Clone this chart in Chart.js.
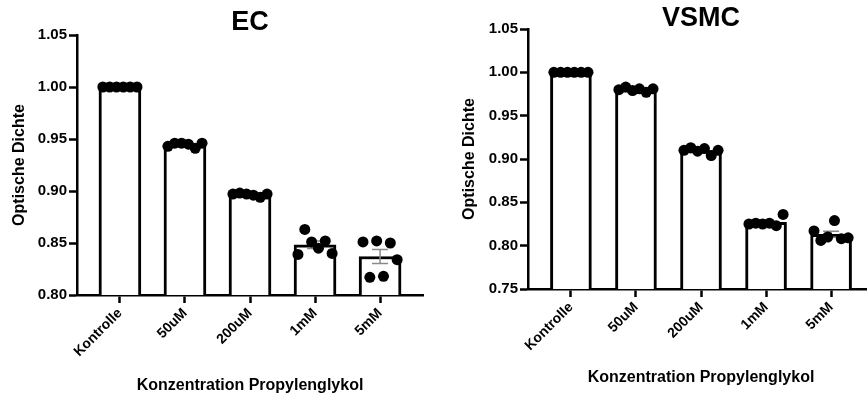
<!DOCTYPE html>
<html>
<head>
<meta charset="utf-8">
<script src="https://cdn.jsdelivr.net/npm/chart.js@4.4.0/dist/chart.umd.min.js"></script>
<style>
html, body { margin: 0; padding: 0; background: #fff; overflow: hidden; width: 867px; height: 398px; }
#w1 { position: absolute; left: 0; top: 0; width: 440px; height: 398px; }
#w2 { position: absolute; left: 440px; top: 0; width: 440px; height: 398px; }
</style>
</head>
<body>
<div id="w1"><canvas id="ec"></canvas></div>
<div id="w2"><canvas id="vsmc"></canvas></div>
<script>
var categories = ['Kontrolle', '50uM', '200uM', '1mM', '5mM'];

// optical density, 6 replicates per concentration
var ecValues = [
    [1.000, 1.000, 1.000, 1.000, 1.000, 1.000],
    [0.943, 0.946, 0.946, 0.945, 0.941, 0.946],
    [0.897, 0.898, 0.897, 0.896, 0.894, 0.897],
    [0.839, 0.863, 0.851, 0.845, 0.852, 0.840],
    [0.851, 0.817, 0.852, 0.818, 0.850, 0.834]
];
var vsmcValues = [
    [1.000, 1.000, 1.000, 1.000, 1.000, 1.000],
    [0.980, 0.983, 0.979, 0.981, 0.977, 0.981],
    [0.910, 0.913, 0.909, 0.912, 0.904, 0.910],
    [0.825, 0.826, 0.825, 0.826, 0.823, 0.836],
    [0.817, 0.806, 0.810, 0.829, 0.808, 0.809]
];
var ecTicks = [0.80, 0.85, 0.90, 0.95, 1.00, 1.05];
var vsmcTicks = [0.75, 0.80, 0.85, 0.90, 0.95, 1.00, 1.05];

var FONT = 'Liberation Sans, Arial, sans-serif';

function mean(a) {
    var s = 0;
    a.forEach(function (v) { s += v; });
    return s / a.length;
}
function sem(a) {
    var m = mean(a), s = 0;
    a.forEach(function (v) { s += (v - m) * (v - m); });
    return Math.sqrt(s / (a.length - 1)) / Math.sqrt(a.length);
}

function makeChart(id, values, yTicks, title, lay) {
    var points = [];
    values.forEach(function (arr, i) {
        arr.forEach(function (v, j) {
            points.push({ x: i + (j - (arr.length - 1) / 2) * 0.105, y: v });
        });
    });
    var bars = values.map(function (arr, i) { return { x: i, y: mean(arr) }; });

    var errorBars = {
        id: 'errorBars',
        afterDatasetDraw: function (chart, args) {
            if (args.meta.type !== 'bar') return;
            var ctx = chart.ctx, xs = chart.scales.x, ys = chart.scales.y;
            ctx.save();
            ctx.strokeStyle = '#8a8a8a';
            ctx.lineWidth = 1.5;
            values.forEach(function (arr, i) {
                var m = mean(arr), s = sem(arr);
                if (s === 0) return;
                var px = xs.getPixelForValue(i);
                var hi = ys.getPixelForValue(m + s), lo = ys.getPixelForValue(m - s);
                ctx.beginPath();
                ctx.moveTo(px, hi); ctx.lineTo(px, lo);
                ctx.moveTo(px - 8, hi); ctx.lineTo(px + 8, hi);
                ctx.moveTo(px - 8, lo); ctx.lineTo(px + 8, lo);
                ctx.stroke();
            });
            ctx.restore();
        }
    };

    var chartTitle = {
        id: 'chartTitle',
        afterDraw: function (chart) {
            var ctx = chart.ctx, a = chart.chartArea;
            ctx.save();
            ctx.fillStyle = '#000';
            ctx.font = 'bold 27px ' + FONT;
            ctx.textAlign = 'center';
            ctx.textBaseline = 'middle';
            ctx.fillText(title, (a.left + a.right) / 2, lay.titleY);
            ctx.restore();
        }
    };

    return new Chart(document.getElementById(id), {
        type: 'bar',
        data: {
            datasets: [
                {
                    type: 'scatter',
                    data: points,
                    order: 0,
                    backgroundColor: '#000',
                    borderWidth: 0,
                    pointRadius: 5.5
                },
                {
                    type: 'bar',
                    data: bars,
                    order: 1,
                    backgroundColor: '#fff',
                    borderColor: '#000',
                    borderWidth: 3,
                    barThickness: lay.barW
                }
            ]
        },
        options: {
            responsive: true,
            maintainAspectRatio: false,
            animation: false,
            devicePixelRatio: 1,
            layout: { padding: { top: lay.top, right: lay.right, left: 0, bottom: 0 } },
            plugins: { legend: { display: false }, tooltip: { enabled: false } },
            scales: {
                x: {
                    type: 'linear',
                    min: -0.66,
                    max: 4.66,
                    offset: false,
                    afterBuildTicks: function (s) {
                        s.ticks = categories.map(function (c, i) { return { value: i }; });
                    },
                    afterFit: function (s) { s.height = lay.xH; },
                    ticks: {
                        autoSkip: false,
                        minRotation: 45,
                        maxRotation: 45,
                        padding: 2,
                        color: '#000',
                        font: { family: FONT, size: 14, weight: 'bold' },
                        callback: function (v) { return categories[v]; }
                    },
                    grid: { offset: false, drawOnChartArea: false, drawTicks: true, tickLength: 8, tickWidth: 2.5, tickColor: '#000' },
                    border: { display: true, color: '#000', width: 2.5 },
                    title: {
                        display: true,
                        text: 'Konzentration Propylenglykol',
                        color: '#000',
                        font: { family: FONT, size: 16, weight: 'bold' },
                        padding: { top: 0, bottom: lay.xTitlePad }
                    }
                },
                y: {
                    min: yTicks[0],
                    max: yTicks[yTicks.length - 1],
                    afterBuildTicks: function (s) {
                        s.ticks = yTicks.map(function (v) { return { value: v }; });
                    },
                    afterFit: function (s) { s.width = lay.yW; },
                    ticks: {
                        padding: 2,
                        color: '#000',
                        font: { family: FONT, size: 15, weight: 'bold' },
                        callback: function (v) { return v.toFixed(2); }
                    },
                    grid: { drawOnChartArea: false, drawTicks: true, tickLength: 8, tickWidth: 2.5, tickColor: '#000' },
                    border: { display: true, color: '#000', width: 2.5 },
                    title: {
                        display: true,
                        text: 'Optische Dichte',
                        color: '#000',
                        font: { family: FONT, size: 16, weight: 'bold' },
                        padding: { top: lay.yTitlePad, bottom: 0 }
                    }
                }
            }
        },
        plugins: [errorBars, chartTitle]
    });
}

makeChart('ec', ecValues, ecTicks, 'EC',
    { top: 35, right: 17, xH: 103, yW: 77, barW: 42, titleY: 23, xTitlePad: 3, yTitlePad: 10 });
makeChart('vsmc', vsmcValues, vsmcTicks, 'VSMC',
    { top: 29, right: 6, xH: 109, yW: 88, barW: 41, titleY: 19, xTitlePad: 11, yTitlePad: 20 });
</script>
</body>
</html>
